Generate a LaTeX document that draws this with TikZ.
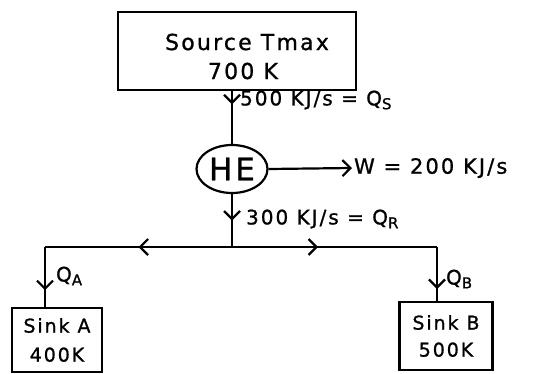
\documentclass[tikz,border=0pt]{standalone}
\usepackage{fontspec}
\setmainfont{DejaVu Sans}[LetterSpace=10,FakeBold=1]
\usetikzlibrary{arrows.meta,decorations.markings,shapes.geometric}
\newcommand\qsub[2]{#1\raisebox{-0.35ex}{\fontsize{15}{15}\selectfont #2}}
\begin{document}
\begin{tikzpicture}[x=1pt,y=-1pt,line width=2.2pt,
  box/.style={draw,rectangle,inner sep=0pt,align=center},
  lbl/.style={anchor=west,inner sep=1pt,font=\fontsize{20}{22}\selectfont},
  tipend/.style={-{Straight Barb[length=8pt,width=16pt]}},
  midarrow/.style={postaction={decorate},decoration={markings,
    mark=at position #1 with {\arrow{Straight Barb[length=8pt,width=16pt]}}}}]
\useasboundingbox (0,0) rectangle (539,373);
% source
\node[box,minimum width=238pt,minimum height=78pt] (src) at (237,51) {};
\node[font=\fontsize{22}{24}\selectfont] (srct) at (247,42) {Source Tmax};
\node[font=\fontsize{22}{24}\selectfont] (srck) at (243,71) {700 K};
% heat engine
\node[draw,ellipse,minimum width=71pt,minimum height=48pt,inner sep=0pt,
  font=\fontsize{31}{32}\selectfont] (he) at (232,169) {HE};
\draw[midarrow=0.25] (src.south -| he.north) -- (he.north);
\node[lbl] (qs) at (238,100) {500 KJ/s = \qsub{Q}{S}};
% work
\node[lbl,font=\fontsize{21}{22}\selectfont] (w) at (352,168) {W = 200 KJ/s};
\draw[tipend] (he.east) -- (w.west);
% rejected heat
\coordinate (j) at (232,247);
\coordinate (ca) at (45,247);
\coordinate (cb) at (437,247);
\draw[midarrow=0.5] (he.south) -- (j);
\node[lbl] (qr) at (244,219) {300 KJ/s = \qsub{Q}{R}};
% sinks
\node[box,minimum width=90pt,minimum height=64pt,
  font=\fontsize{19}{29}\selectfont] (sa) at (57,340) {Sink A\\400K};
\node[box,minimum width=93pt,minimum height=68pt,
  font=\fontsize{19}{27}\selectfont] (sb) at (446,336) {Sink B\\500K};
\draw[midarrow=0.5] (j) -- (ca);
\draw[midarrow=0.42] (j) -- (cb);
\draw[midarrow=0.72] (ca) -- (ca |- sa.north);
\draw[midarrow=0.78] (cb) -- (cb |- sb.north);
\node[lbl] (qa) at (54,276) {\qsub{Q}{A}};
\node[lbl] (qb) at (444,279) {\qsub{Q}{B}};
\end{tikzpicture}
\end{document}
